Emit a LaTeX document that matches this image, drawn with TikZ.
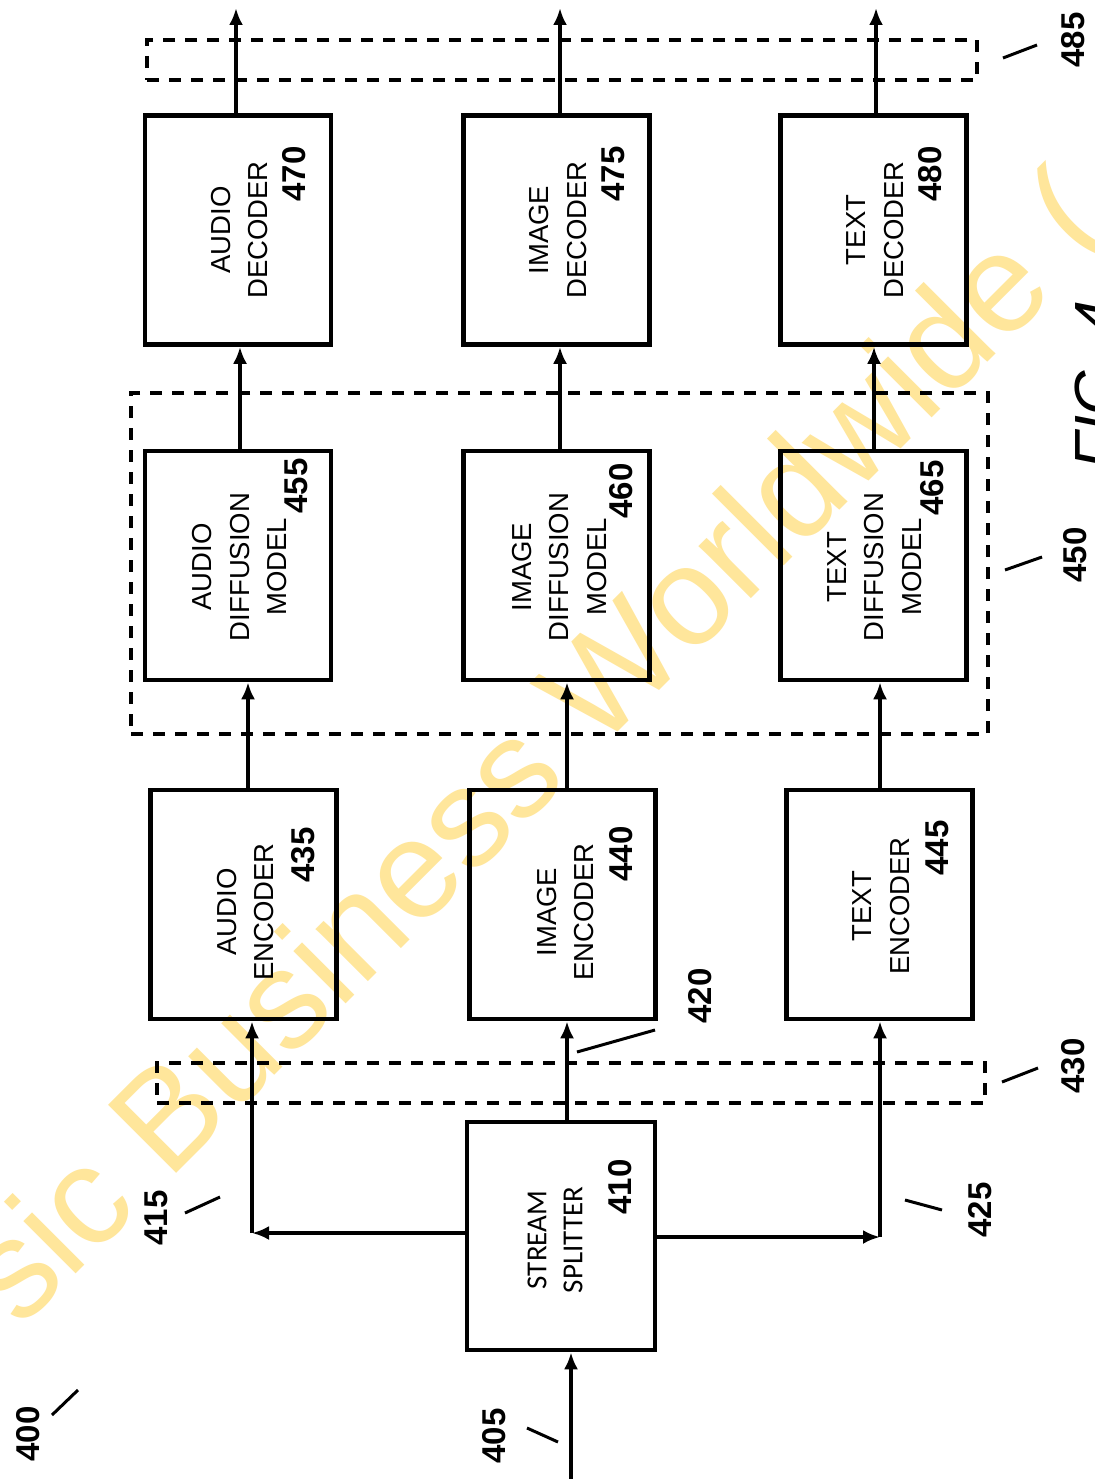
\documentclass[tikz,border=0pt]{standalone}
\usepackage{fontspec}
\setmainfont{Liberation Sans}
\newfontfamily\carl{Carlito}
\usetikzlibrary{arrows.meta,calc}
\definecolor{wmyellow}{RGB}{255,230,155}
\begin{document}
\begin{tikzpicture}[x=1pt,y=-1pt,
  box/.style={draw, line width=4.5pt, minimum width=186pt, minimum height=229pt, inner sep=0pt},
  lbl/.style={rotate=90, align=center, font=\fontsize{27.5}{37.5}\selectfont, inner sep=0pt},
  num/.style={rotate=90, font=\fontsize{33}{33}\selectfont\bfseries, inner sep=0pt},
  conn/.style={line width=3.5pt, -{Latex[length=17pt,width=14pt]}},
  grp/.style={draw, line width=3.5pt, dash pattern=on 12pt off 10pt, inner sep=0pt},
  lead/.style={line width=3pt},
  wm/.style={rotate=45, anchor=base west, inner sep=0pt, text=wmyellow, font=\fontsize{140}{140}\selectfont}
]
\useasboundingbox (0,0) rectangle (1094,1479);
\fill[white] (0,0) rectangle (1094,1479);

% watermark
\node[wm] (wmark) at (20,1330) {sic Business Worldwide (};

% boxes
\node[box] (b470) at (238,230) {};
\node[box] (b475) at (556.5,230) {};
\node[box] (b480) at (873.5,230) {};
\node[box] (b455) at (238,565.5) {};
\node[box] (b460) at (556.5,565.5) {};
\node[box] (b465) at (873.5,565.5) {};
\node[box] (b435) at (243.5,904.5) {};
\node[box] (b440) at (562.5,904.5) {};
\node[box] (b445) at (879.5,904.5) {};
\node[box, minimum width=188pt, minimum height=228pt] (b410) at (561,1236) {};

% box texts
\node[lbl] (t470) at (239.5,230) {AUDIO\\DECODER};
\node[lbl] (t475) at (558,230) {IMAGE\\DECODER};
\node[lbl] (t480) at (875,230) {TEXT\\DECODER};
\node[lbl] (t455) at (240,567) {AUDIO\\DIFFUSION\\MODEL};
\node[lbl] (t460) at (559.5,567) {IMAGE\\DIFFUSION\\MODEL};
\node[lbl] (t465) at (874.5,567) {TEXT\\DIFFUSION\\MODEL};
\node[lbl] (t435) at (245.5,912) {AUDIO\\ENCODER};
\node[lbl] (t440) at (565.5,912) {IMAGE\\ENCODER};
\node[lbl] (t445) at (881,906) {TEXT\\ENCODER};
\node[lbl, font=\carl\fontsize{29}{36}\selectfont] (t410) at (555,1240) {STREAM\\SPLITTER};

% numbers in boxes
\node[num] (n470) at (294.5,174) {470};
\node[num] (n475) at (613,174) {475};
\node[num] (n480) at (930,174) {480};
\node[num] (n455) at (296.5,486) {455};
\node[num] (n460) at (621,491) {460};
\node[num] (n465) at (932.5,488) {465};
\node[num] (n435) at (303.5,855) {435};
\node[num] (n440) at (621.5,854) {440};
\node[num] (n445) at (937.5,848) {445};
\node[num] (n410) at (620,1187) {410};

% outside labels
\node[num] (n400) at (28,1434) {400};
\node[num] (n405) at (494,1436) {405};
\node[num] (n415) at (156,1218) {415};
\node[num] (n420) at (700,996) {420};
\node[num] (n425) at (980,1210) {425};
\node[num] (n430) at (1073,1066) {430};
\node[num] (n450) at (1075,555) {450};
\node[num] (n485) at (1073,40) {485};
\node[rotate=90, anchor=north, inner sep=0pt, font=\fontsize{61}{61}\selectfont\itshape] (fig) at (1075,385) {FIG. 4};

% dashed groups
\node[grp, minimum width=830pt, minimum height=40pt] (g485) at (562,60) {};
\node[grp, minimum width=857pt, minimum height=341pt] (g450) at (559.5,563.5) {};
\node[grp, minimum width=828pt, minimum height=40pt] (g430) at (571,1083) {};

% connectors
\coordinate (in405) at (571,1479);
\draw[conn] (in405) -- (in405 |- b410.south);
\draw[conn] ([xshift=6pt]b410.north) -- ([xshift=6pt]b410.north |- b440.south);
\coordinate (ca) at (252,1233);
\draw[conn] (b410.west |- ca) -- (ca);
\draw[conn] (ca) -- (ca |- b435.south);
\coordinate (ct) at (880,1237);
\draw[conn] (b410.east |- ct) -- (ct);
\draw[conn] (ct) -- (ct |- b445.south);

\draw[conn] ([xshift=4.5pt]b435.north) -- ([xshift=4.5pt]b435.north |- b455.south);
\draw[conn] ([xshift=4.5pt]b440.north) -- ([xshift=4.5pt]b440.north |- b460.south);
\draw[conn] ([xshift=0.5pt]b445.north) -- ([xshift=0.5pt]b445.north |- b465.south);

\draw[conn] ([xshift=2pt]b455.north) -- ([xshift=2pt]b455.north |- b470.south);
\draw[conn] ([xshift=3.5pt]b460.north) -- ([xshift=3.5pt]b460.north |- b475.south);
\draw[conn] ([xshift=0.5pt]b465.north) -- ([xshift=0.5pt]b465.north |- b480.south);

\coordinate (o470) at (236,8);
\coordinate (o475) at (560,8);
\coordinate (o480) at (876,8);
\draw[conn] (o470 |- b470.north) -- (o470);
\draw[conn] (o475 |- b475.north) -- (o475);
\draw[conn] (o480 |- b480.north) -- (o480);

% leaders
\coordinate (l400a) at (52,1415);  \coordinate (l400b) at (78,1390);
\coordinate (l405a) at (527,1428); \coordinate (l405b) at (558,1442);
\coordinate (l415a) at (185,1213); \coordinate (l415b) at (220,1197);
\coordinate (l420a) at (577,1052); \coordinate (l420b) at (655,1030);
\coordinate (l425a) at (905,1200); \coordinate (l425b) at (942,1210);
\coordinate (l430a) at (1002,1082); \coordinate (l430b) at (1038,1068);
\coordinate (l450a) at (1005,570); \coordinate (l450b) at (1042,557);
\coordinate (l485a) at (1003,58); \coordinate (l485b) at (1037,45);
\draw[lead] (l400a) -- (l400b);
\draw[lead] (l405a) -- (l405b);
\draw[lead] (l415a) -- (l415b);
\draw[lead] (l420a) -- (l420b);
\draw[lead] (l425a) -- (l425b);
\draw[lead] (l430a) -- (l430b);
\draw[lead] (l450a) -- (l450b);
\draw[lead] (l485a) -- (l485b);
\end{tikzpicture}
\end{document}
